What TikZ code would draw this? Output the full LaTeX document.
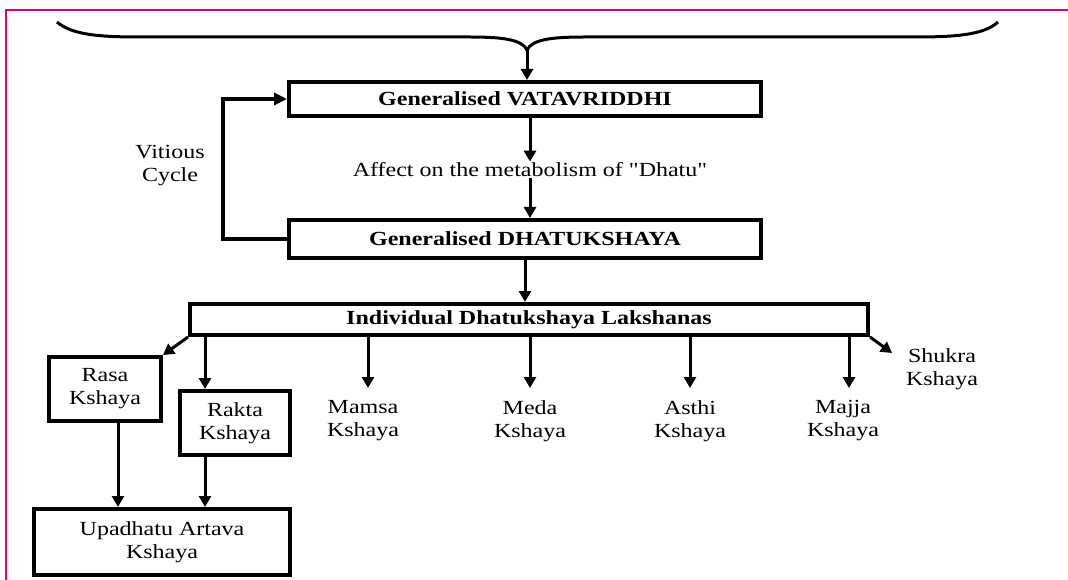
\documentclass[tikz,border=0pt]{standalone}
\usepackage{fontspec}
\setmainfont{Liberation Serif}[FakeStretch=1.2]
\newfontfamily\rawserif{Liberation Serif}[FakeStretch=1.2]
\usetikzlibrary{arrows.meta,calc}
\definecolor{framepink}{RGB}{222,0,116}
\begin{document}
\begin{tikzpicture}[x=1pt,y=-1pt,
  txtfont/.style={font=\fontsize{20}{23}\selectfont},
  box/.style={draw,line width=4pt,inner sep=0pt,align=center,txtfont},
  boldbox/.style={box,font=\fontsize{20}{23}\selectfont\bfseries},
  label/.style={align=center,inner sep=1pt,txtfont},
  arr/.style={line width=3pt,-{Triangle[length=11pt,width=12pt]}},
  loopline/.style={line width=4pt,-{Triangle[length=13pt,width=12pt]}}]
\useasboundingbox (0,0) rectangle (1068,580);

% frame edges
\draw[framepink,line width=2pt] (6,580) -- (6,10) -- (1068,10);

% main boxes
\node[boldbox,minimum width=472pt,minimum height=34pt] (vata) at (525,99) {Generalised VATAVRIDDHI};
\node[label] (affect) at (530,170) {\rawserif Affect on the metabolism of "Dhatu"};
\node[boldbox,minimum width=472pt,minimum height=38pt] (dhatu) at (525,239) {Generalised DHATUKSHAYA};
\node[boldbox,minimum width=678pt,minimum height=31pt] (indiv) at (529,319.5) {Individual Dhatukshaya Lakshanas};
\node[label] (vicious) at (170,166) {Vitious\\Cycle};

% individual kshaya
\node[box,minimum width=112pt,minimum height=64pt] (rasa) at (105,389) {Rasa\\Kshaya};
\node[box,minimum width=110pt,minimum height=64pt] (rakta) at (235,423) {Rakta\\Kshaya};
\node[label] (mamsa) at (363,421) {Mamsa\\Kshaya};
\node[label] (meda) at (530,421) {Meda\\Kshaya};
\node[label] (asthi) at (690,421) {Asthi\\Kshaya};
\node[label] (majja) at (843,421) {Majja\\Kshaya};
\node[label] (shukra) at (942,369) {Shukra\\Kshaya};
\node[box,minimum width=256pt,minimum height=66pt] (upa) at (162,542) {Upadhatu Artava\\Kshaya};

% brace over the chart
\coordinate (cusp) at (527,50);
\draw[line width=3pt]
  (57,22) .. controls (72,35) and (100,37) .. (140,37) -- (470,37)
  .. controls (505,37) and (522,40) .. (cusp)
  .. controls (532,40) and (549,37) .. (584,37) -- (915,37)
  .. controls (955,37) and (984,35) .. (998,22);
\draw[arr] (cusp) -- (cusp |- vata.north);

% main flow
\draw[arr] (vata.south -| affect.north) -- (affect.north);
\draw[arr] (affect.south) -- (affect.south |- dhatu.north);
\draw[arr] (dhatu.south) -- (dhatu.south |- indiv.north);

% vicious cycle loop
\draw[loopline] (dhatu.west) -- ++(-64,0) |- (vata.west);

% branches
\coordinate (shukratip) at (892,353);
\draw[arr] (indiv.south west) -- (rasa.north east);
\draw[arr] ($(indiv.south west)+(17,0)$) -- ($(rakta.north west)+(27,0)$);
\draw[arr] ($(indiv.south -| mamsa.north)+(5,0)$) -- (368,388);
\draw[arr] (indiv.south -| meda.north) -- (meda.north |- 0,388);
\draw[arr] (indiv.south -| asthi.north) -- (asthi.north |- 0,388);
\draw[arr] ($(indiv.south -| majja.north)+(6,0)$) -- (849,388);
\draw[arr] (indiv.south east) -- (shukratip);

% into Upadhatu Artava
\draw[arr] ($(rasa.south)+(13,0)$) -- ($(rasa.south |- upa.north)+(13,0)$);
\draw[arr] ($(rakta.south west)+(27,0)$) -- ($(rakta.south west |- upa.north)+(27,0)$);
\end{tikzpicture}
\end{document}
